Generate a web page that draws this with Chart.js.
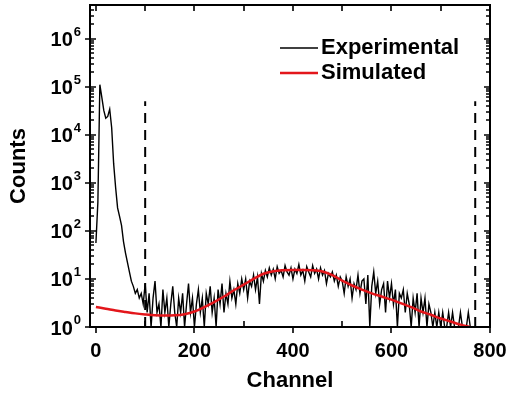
<!DOCTYPE html>
<html>
<head>
<meta charset="utf-8">
<script src="https://cdn.jsdelivr.net/npm/chart.js@4.4.1/dist/chart.umd.min.js"></script>
<style>
  html, body { margin: 0; padding: 0; background: #fff; }
  #wrap { width: 508px; height: 396px; }
</style>
</head>
<body>
<div id="wrap"><canvas id="spectrum"></canvas></div>
<script>
// --- data ---
// experimental spectrum, one value every 4 channels starting at channel 0
const expStep = 4;
const expCounts = [
  56, 400, 110000, 60000, 32000, 22000, 24000, 34000, 14000, 2500,
  800, 300, 200, 130, 60, 35, 22, 14, 9, 7, 5, 6, 4, 5, 3,
  // 100 - 296
  8, 2, 5, 1, 4, 9, 2, 3, 1, 6, 2, 4, 1, 3, 7, 2, 1, 4, 2, 5,
  1, 3, 8, 2, 4, 1, 3, 6, 2, 4, 1, 5, 3, 7, 2, 4, 1, 6, 3, 8,
  2, 5, 3, 9, 4, 6, 3, 8, 5, 10,
  // 300 - 496
  6, 10, 4, 9, 7, 12, 6, 11, 3, 13, 9, 15, 11, 17, 12, 16, 10, 18, 13, 15,
  11, 19, 14, 12, 17, 10, 16, 13, 20, 12, 15, 9, 18, 14, 11, 19, 13, 16, 10, 17,
  12, 15, 8, 13, 11, 14, 9, 12, 7, 11,
  // 500 - 696
  9, 5, 11, 7, 10, 4, 8, 6, 12, 5, 9, 10, 3, 12, 1, 7, 14, 5, 9, 3,
  6, 8, 2, 9, 4, 8, 3, 6, 1, 5, 4, 6, 2, 5, 3, 1, 4, 2, 5, 1,
  4, 2, 4, 1, 3, 2, 1, 2, 1, 2,
  // 700 - 764
  1, 2, 1, 1, 2, 1, 2, 1, 1, 1, 2, 1, 1, 1, 2, 1, 1
];
const expChannels = expCounts.map((_, i) => i * expStep);

// simulated curve, every 20 channels
const simChannels = [0, 20, 40, 60, 80, 100, 120, 140, 160, 180, 200, 220, 240, 260, 280, 300, 320, 340, 360, 380,
  400, 420, 440, 460, 480, 500, 520, 540, 560, 580, 600, 620, 640, 660, 680, 700, 720, 740, 760];
const simCounts = [2.6, 2.4, 2.2, 2.05, 1.92, 1.83, 1.76, 1.73, 1.75, 1.85, 2.1, 2.6, 3.3, 4.3, 5.8, 7.6, 10, 12.8, 14.5, 15.2,
  15.4, 15.4, 15.2, 14.3, 12, 9.2, 7.3, 6, 5, 4.3, 3.7, 3.1, 2.6, 2.1, 1.8, 1.5, 1.3, 1.12, 1.0];

// dashed window markers
const cutChannels = [100, 770];
const cutTop = 5e4;

const xTicks = [0, 200, 400, 600, 800];
const yTicks = [1, 10, 100, 1000, 10000, 100000, 1000000];
const yTickExp = ['0', '1', '2', '3', '4', '5', '6'];

const fam = '"Liberation Sans", Arial, sans-serif';

// frame, tick marks and the 10^n labels
const framePlugin = {
  id: 'frame',
  afterDatasetsDraw(chart) {
    const { ctx, chartArea: a, scales: { x, y } } = chart;
    ctx.save();
    ctx.strokeStyle = '#000';
    ctx.lineWidth = 2;
    ctx.strokeRect(a.left, a.top, a.right - a.left, a.bottom - a.top);

    ctx.lineWidth = 1.6;
    ctx.beginPath();
    for (let v = 0; v <= 800; v += 100) {
      const px = Math.round(x.getPixelForValue(v));
      ctx.moveTo(px, a.top); ctx.lineTo(px, a.top + 6);
      if (v % 200 === 0) { ctx.moveTo(px, a.bottom); ctx.lineTo(px, a.bottom + 6); }
      else { ctx.moveTo(px, a.bottom); ctx.lineTo(px, a.bottom - 6); }
    }
    for (let d = 1; d <= 1e6; d *= 10) {
      for (let m = 1; m <= 9; m++) {
        const v = d * m;
        if (v > y.max) break;
        const py = Math.round(y.getPixelForValue(v));
        const len = m === 1 ? 6 : 4;
        ctx.moveTo(a.left, py); ctx.lineTo(a.left + len, py);
        ctx.moveTo(a.right, py); ctx.lineTo(a.right - len, py);
        if (m === 1) { ctx.moveTo(a.left, py); ctx.lineTo(a.left - 5, py); }
      }
    }
    ctx.stroke();

    // y labels: "10" plus raised exponent
    ctx.fillStyle = '#000';
    yTicks.forEach((v, i) => {
      const py = y.getPixelForValue(v);
      ctx.font = 'bold 13px ' + fam;
      ctx.textAlign = 'right';
      ctx.textBaseline = 'alphabetic';
      ctx.fillText(yTickExp[i], 81, py - 3);
      const ew = ctx.measureText(yTickExp[i]).width;
      ctx.font = 'bold 20px ' + fam;
      ctx.textBaseline = 'middle';
      ctx.fillText('10', 81 - ew - 1, py + 2);
    });
    ctx.restore();
  },
  afterDraw(chart) {
    const { ctx } = chart;
    const items = chart.data.datasets.slice(0, 2);
    ctx.save();
    ctx.font = 'bold 22px ' + fam;
    ctx.textBaseline = 'middle';
    ctx.fillStyle = '#000';
    items.forEach((ds, i) => {
      const yy = 48 + i * 25;
      ctx.strokeStyle = ds.borderColor;
      ctx.lineWidth = i === 0 ? 1.5 : 2.5;
      ctx.beginPath();
      ctx.moveTo(280, yy); ctx.lineTo(318, yy);
      ctx.stroke();
      ctx.fillText(ds.label, 321, yy);
    });
    ctx.restore();
  }
};

const noPad = s => { s.paddingTop = 0; s.paddingBottom = 0; s.paddingLeft = 0; s.paddingRight = 0; };

const ctx = document.getElementById('spectrum').getContext('2d');
new Chart(ctx, {
  type: 'line',
  data: {
    datasets: [
      {
        label: 'Experimental',
        data: expChannels.map((c, i) => ({ x: c, y: expCounts[i] })),
        borderColor: '#000',
        borderWidth: 1.4,
        pointRadius: 0,
        tension: 0,
        order: 2
      },
      {
        label: 'Simulated',
        data: simChannels.map((c, i) => ({ x: c, y: simCounts[i] })),
        borderColor: '#e3161b',
        borderWidth: 2.5,
        pointRadius: 0,
        cubicInterpolationMode: 'monotone',
        order: 1
      },
      ...cutChannels.map(c => ({
        label: 'cut ' + c,
        data: [{ x: c, y: 1 }, { x: c, y: cutTop }],
        borderColor: '#000',
        borderWidth: 2,
        borderDash: [10, 7],
        pointRadius: 0,
        order: 0
      }))
    ]
  },
  options: {
    responsive: true,
    maintainAspectRatio: false,
    animation: false,
    layout: { padding: { top: 5, right: 18, left: 0, bottom: 0 } },
    plugins: { legend: { display: false }, tooltip: { enabled: false } },
    scales: {
      x: {
        type: 'linear',
        min: -12,
        max: 800,
        afterBuildTicks: s => { s.ticks = xTicks.map(v => ({ value: v })); },
        afterFit: s => { s.height = 69; noPad(s); },
        grid: { display: false, drawTicks: false },
        border: { display: false },
        ticks: {
          color: '#000',
          padding: 12,
          maxRotation: 0,
          font: { family: fam, size: 20, weight: 'bold' },
          callback: v => String(v)
        },
        title: {
          display: true,
          text: 'Channel',
          color: '#000',
          font: { family: fam, size: 22, weight: 'bold' },
          padding: { top: 0, bottom: 2 }
        }
      },
      y: {
        type: 'logarithmic',
        min: 1,
        max: 5e6,
        afterBuildTicks: s => { s.ticks = yTicks.map(v => ({ value: v })); },
        afterFit: s => { s.width = 90; noPad(s); },
        grid: { display: false, drawTicks: false },
        border: { display: false },
        ticks: { display: false },
        title: {
          display: true,
          text: 'Counts',
          color: '#000',
          font: { family: fam, size: 22, weight: 'bold' },
          padding: { top: 6, bottom: 0 }
        }
      }
    }
  },
  plugins: [framePlugin]
});
</script>
</body>
</html>
